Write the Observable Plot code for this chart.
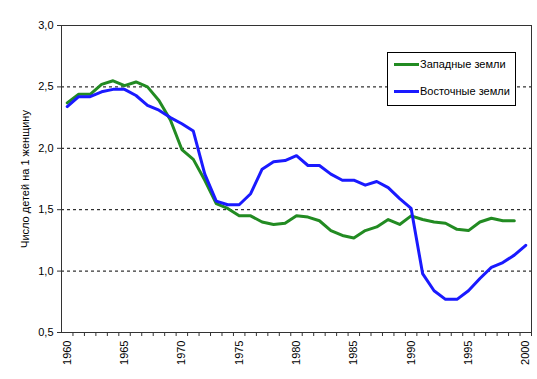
<!DOCTYPE html>
<html>
<head>
<meta charset="utf-8">
<script src="https://cdn.jsdelivr.net/npm/d3@7"></script>
<script src="https://cdn.jsdelivr.net/npm/@observablehq/plot@0.6"></script>
<style>
  html, body { margin: 0; padding: 0; background: #fff; }
  #wrap { position: relative; width: 537px; height: 379px; font-family: "Liberation Sans", Arial, sans-serif; }
  #legend { position: absolute; left: 387px; top: 52px; width: 129px; height: 54px; border: 1px solid #000; background: #fff; box-sizing: border-box; font-size: 11px; color: #000; }
  .item { position: absolute; left: 6px; height: 12px; display: flex; align-items: center; }
  .sw { width: 25px; height: 3px; margin-right: 1px; }
</style>
</head>
<body>
<div id="wrap"><div id="legend"></div></div>
<script>
const years = d3.range(1960, 2001);
const westValues = [2.37, 2.44, 2.44, 2.52, 2.55, 2.51, 2.54, 2.50, 2.39, 2.23,
  1.99, 1.91, 1.74, 1.55, 1.51, 1.45, 1.45, 1.40, 1.38, 1.39,
  1.45, 1.44, 1.41, 1.33, 1.29, 1.27, 1.33, 1.36, 1.42, 1.38,
  1.45, 1.42, 1.40, 1.39, 1.34, 1.33, 1.40, 1.43, 1.41, 1.41, null];
const eastValues = [2.34, 2.42, 2.42, 2.46, 2.48, 2.48, 2.43, 2.35, 2.31, 2.25,
  2.20, 2.14, 1.79, 1.57, 1.54, 1.54, 1.63, 1.83, 1.89, 1.90,
  1.94, 1.86, 1.86, 1.79, 1.74, 1.74, 1.70, 1.73, 1.68, 1.59,
  1.51, 0.98, 0.84, 0.77, 0.77, 0.84, 0.94, 1.03, 1.07, 1.13, 1.21];
const seriesNames = ["Западные земли", "Восточные земли"];
const seriesColors = ["#228B22", "#1a1aff"];
const yTicks = [0.5, 1.0, 1.5, 2.0, 2.5, 3.0];
const gridValues = [1.0, 1.5, 2.0, 2.5];
const xLabelYears = [1960, 1965, 1970, 1975, 1980, 1985, 1990, 1995, 2000];
const yTitle = "Число детей на 1 женщину";

const west = years.map((year, i) => ({year, value: westValues[i]})).filter(d => d.value != null);
const east = years.map((year, i) => ({year, value: eastValues[i]})).filter(d => d.value != null);
const boundaries = d3.range(1960.5, 2000.6, 1);

const chart = Plot.plot({
  width: 537,
  height: 379,
  marginLeft: 61,
  marginRight: 6,
  marginTop: 25,
  marginBottom: 47,
  style: {fontFamily: "Liberation Sans, Arial, sans-serif", fontSize: "11px", color: "#000", background: "transparent"},
  x: {domain: [1959.5, 2000.5]},
  y: {domain: [0.5, 3.0]},
  marks: [
    Plot.gridY(gridValues, {stroke: "#000", strokeOpacity: 1, strokeDasharray: "3,3"}),
    Plot.lineY(west, {x: "year", y: "value", stroke: seriesColors[0], strokeWidth: 3}),
    Plot.lineY(east, {x: "year", y: "value", stroke: seriesColors[1], strokeWidth: 3}),
    Plot.frame({stroke: "#333"}),
    Plot.axisY(yTicks, {tickSize: 4, tickPadding: 4, stroke: "#333", fontSize: 11,
      tickFormat: d => d.toFixed(1).replace(".", ","),
      label: yTitle, labelAnchor: "center", labelArrow: "none", labelOffset: 40}),
    Plot.axisX(boundaries, {tickSize: 4, stroke: "#333", tickFormat: () => "", label: null}),
    Plot.axisX(xLabelYears, {tickSize: 0, tickRotate: -90, tickPadding: 8, fontSize: 11,
      tickFormat: d => String(d), label: null})
  ]
});
const wrap = document.getElementById("wrap");
wrap.insertBefore(chart, wrap.firstChild);

const legend = document.getElementById("legend");
seriesNames.forEach((name, i) => {
  const item = document.createElement("div");
  item.className = "item";
  item.style.top = (i === 0 ? 5 : 32) + "px";
  const sw = document.createElement("div");
  sw.className = "sw";
  sw.style.background = seriesColors[i];
  const t = document.createElement("span");
  t.textContent = name;
  item.appendChild(sw);
  item.appendChild(t);
  legend.appendChild(item);
});
</script>
</body>
</html>
